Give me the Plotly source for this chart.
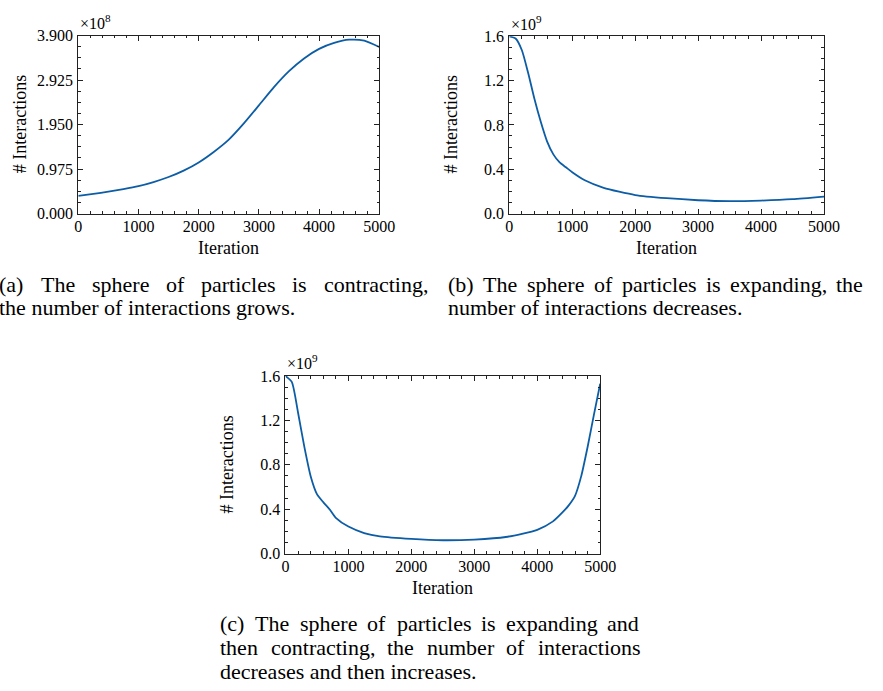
import plotly.graph_objects as go

W, H = 883, 691
FONT = "Liberation Serif"
LINE_COLOR = "#0C5DA5"

# (a) contracting sphere, interactions in units of 1e8
iter_a = [0, 250, 500, 750, 1000, 1250, 1500, 1750, 2000, 2250, 2500, 2750,
          3000, 3250, 3500, 3750, 4000, 4250, 4500, 4750, 5000]
inter_a_e8 = [0.385, 0.43, 0.48, 0.535, 0.60, 0.69, 0.80, 0.94, 1.12, 1.35, 1.62,
              1.975, 2.37, 2.77, 3.12, 3.40, 3.61, 3.74, 3.81, 3.79, 3.65]

# (b) expanding sphere, interactions in units of 1e9
iter_b = [0, 100, 200, 300, 400, 500, 600, 700, 800, 900, 1000, 1200, 1500,
          2000, 2500, 3000, 3500, 4000, 4500, 5000]
inter_b_e9 = [1.60, 1.58, 1.474, 1.268, 1.033, 0.828, 0.652, 0.534, 0.461, 0.417,
              0.373, 0.30, 0.232, 0.167, 0.138, 0.120, 0.112, 0.117, 0.129, 0.153]

# (c) expanding then contracting, interactions in units of 1e9
iter_c = [0, 100, 200, 300, 400, 500, 600, 700, 800, 1000, 1250, 1500, 2000, 2500,
          3000, 3500, 4000, 4250, 4400, 4500, 4600, 4700, 4800, 4900, 5000]
inter_c_e9 = [1.60, 1.547, 1.269, 0.961, 0.697, 0.536, 0.463, 0.399, 0.322, 0.243,
              0.185, 0.155, 0.132, 0.120, 0.126, 0.149, 0.214, 0.29, 0.37, 0.434,
              0.52, 0.70, 0.96, 1.25, 1.53]

x_ticks = [0, 1000, 2000, 3000, 4000, 5000]
y_ticks_a = [0.0, 0.975, 1.95, 2.925, 3.9]
y_ticks_bc = [0.0, 0.4, 0.8, 1.2, 1.6]

captions = {
    "a": ["(a) The sphere of particles is contracting,",
          "the number of interactions grows."],
    "b": ["(b) The sphere of particles is expanding, the",
          "number of interactions decreases."],
    "c": ["(c) The sphere of particles is expanding and",
          "then contracting, the number of interactions",
          "decreases and then increases."],
}

# Times-metric advance widths (per 1000 em) used to justify caption lines
ADV = {" ": 250, "(": 333, ")": 333, ",": 250, ".": 250, "T": 611,
       "a": 444, "b": 500, "c": 444, "d": 500, "e": 444, "f": 333, "g": 500,
       "h": 500, "i": 278, "j": 278, "k": 500, "l": 278, "m": 778, "n": 500,
       "o": 500, "p": 500, "q": 500, "r": 333, "s": 389, "t": 278, "u": 500,
       "v": 500, "w": 722, "x": 500, "y": 500, "z": 444}


def text_w(s, size):
    return sum(ADV.get(ch, 500) for ch in s) / 1000 * size


def px_x(x):
    return x / W


def px_y(y):
    return 1 - y / H


# plot-area boxes in pixels: (left, top, right, bottom)
boxes = {
    "a": (76, 28.3, 384, 210.7),
    "b": (517, 29, 839, 210.7),
    "c": (288, 377.3, 610, 559.3),
}

fig = go.Figure()

panels = [
    ("a", "x", "y", iter_a, inter_a_e8, y_ticks_a, 3.9, 0.975 / 4, "{:.3f}", "8"),
    ("b", "x2", "y2", iter_b, inter_b_e9, y_ticks_bc, 1.6, 0.1, "{:.1f}", "9"),
    ("c", "x3", "y3", iter_c, inter_c_e9, y_ticks_bc, 1.6, 0.1, "{:.1f}", "9"),
]

TICK_FONT = dict(family=FONT, size=16, color="black")
LABEL_FONT = dict(family=FONT, size=18, color="black")

annotations = []
for key, xa, ya, xs, ys, yt, ymax, yminor, fmt, expo in panels:
    l, t, r, b = boxes[key]
    fig.add_trace(go.Scatter(x=xs, y=ys, mode="lines", xaxis=xa, yaxis=ya,
                             line=dict(color=LINE_COLOR, width=1.8, shape="spline",
                                       smoothing=0.6),
                             showlegend=False, hoverinfo="skip"))
    suffix = "" if xa == "x" else xa[1:]
    axis_common = dict(showline=True, linecolor="#222", linewidth=1, mirror="allticks",
                       ticks="inside", ticklen=5, tickwidth=1, tickcolor="#222",
                       showgrid=False, zeroline=False, tickfont=TICK_FONT)
    fig.layout["xaxis" + suffix] = dict(
        axis_common, domain=[px_x(l), px_x(r)], range=[0, 5000],
        tickvals=x_ticks, ticktext=[str(v) for v in x_ticks], anchor=ya,
        ticklabelstandoff=-2,
        minor=dict(dtick=200, tick0=0, ticks="inside", ticklen=2.5,
                   tickwidth=1, tickcolor="#222", showgrid=False))
    fig.layout["yaxis" + suffix] = dict(
        axis_common, domain=[px_y(b), px_y(t)], range=[0, ymax],
        tickvals=yt, ticktext=[fmt.format(v) for v in yt], anchor=xa,
        ticklabelstandoff=1,
        minor=dict(dtick=yminor, tick0=0, ticks="inside", ticklen=2.5,
                   tickwidth=1, tickcolor="#222", showgrid=False))

    # scale factor above the y axis
    annotations.append(dict(text="×10<sup>" + expo + "</sup>", x=px_x(l),
                            y=px_y(t - 14), xref="paper", yref="paper",
                            xanchor="left", yanchor="middle", showarrow=False,
                            font=TICK_FONT))
    # axis titles
    annotations.append(dict(text="Iteration", x=px_x((l + r) / 2), y=px_y(b + 35),
                            xref="paper", yref="paper", xanchor="center",
                            yanchor="middle", showarrow=False, font=LABEL_FONT))
    annotations.append(dict(text="# Interactions", x=px_x(l - 60), y=px_y((t + b) / 2),
                            xref="paper", yref="paper", xanchor="center",
                            yanchor="middle", showarrow=False, textangle=-90,
                            font=LABEL_FONT))

# sub-figure captions: (left px, right px for justified lines, line centres)
CAP_SIZE = 22
CAP_FONT = dict(family=FONT, size=CAP_SIZE, color="black")
caption_layout = {
    "a": (-6, 431, [283, 307]),
    "b": (453, 877, [283, 307]),
    "c": (220, 648, [631, 656, 680]),
}
for key, (cl, cr, ys) in caption_layout.items():
    lines = captions[key]
    for i, (line, cy) in enumerate(zip(lines, ys)):
        if i == len(lines) - 1:
            annotations.append(dict(text=line, x=px_x(cl), y=px_y(cy), xref="paper",
                                    yref="paper", xanchor="left", yanchor="middle",
                                    showarrow=False, borderpad=0, font=CAP_FONT))
            continue
        # justified line: words spread evenly between the two margins
        words = line.split(" ")
        ww = [text_w(w, CAP_SIZE) for w in words]
        gap = (cr - cl - sum(ww)) / (len(words) - 1)
        pos = cl
        for w, wdt in zip(words, ww):
            annotations.append(dict(text=w, x=px_x(pos), y=px_y(cy),
                                    xref="paper", yref="paper", xanchor="left",
                                    yanchor="middle", showarrow=False, borderpad=0,
                                    font=CAP_FONT))
            pos += wdt + gap

fig.update_layout(width=W, height=H, margin=dict(l=0, r=0, t=0, b=0),
                  paper_bgcolor="white", plot_bgcolor="white",
                  annotations=annotations)

fig.write_html("out.html", post_script="document.body.style.margin = '0';")
